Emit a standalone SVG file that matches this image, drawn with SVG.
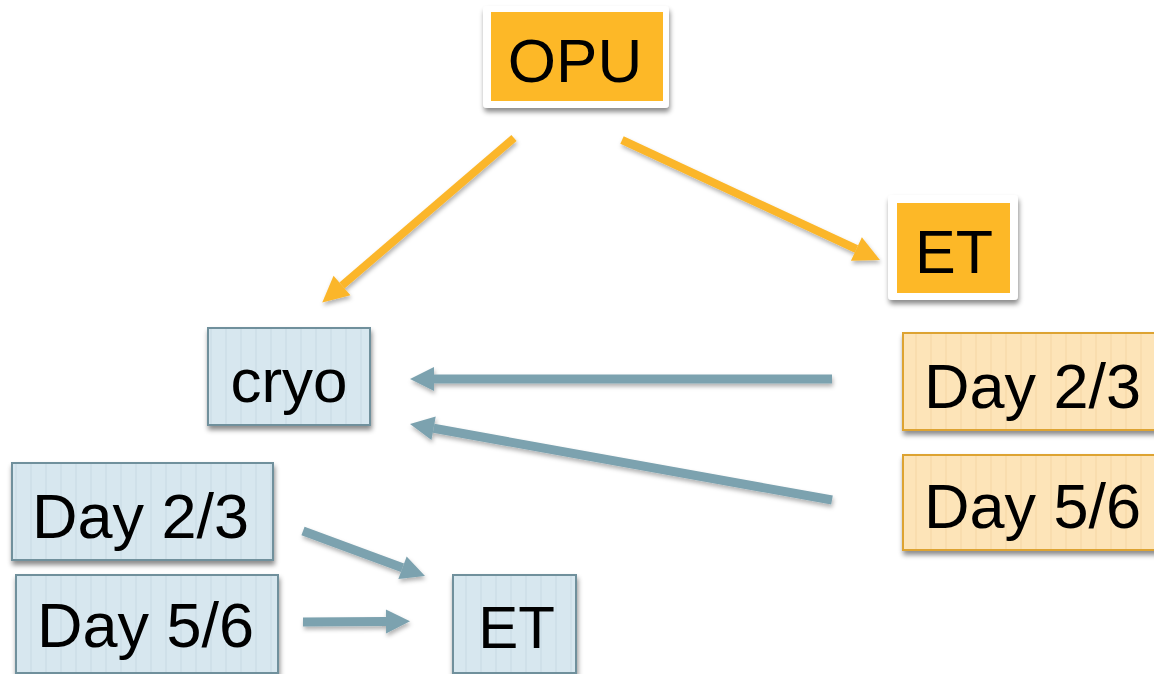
<svg xmlns="http://www.w3.org/2000/svg" width="1154" height="674" viewBox="0 0 1154 674">
<defs>
<style>
.t{font-family:"Liberation Sans",Arial,sans-serif;font-size:63px;fill:#000}
.blue{fill:url(#bstripe);stroke:#6F909C;stroke-width:2}
.beige{fill:url(#ystripe);stroke:#DDA331;stroke-width:2}
.frame{fill:#fff}
.orange{fill:#FDB827}
.oa{stroke:#FBB62B;stroke-width:8;fill:none;marker-end:url(#oh)}
.ba{stroke:#7CA2AF;stroke-width:9;fill:none;marker-end:url(#bh)}
</style>
<pattern id="bstripe" width="15" height="10" patternUnits="userSpaceOnUse">
<rect width="15" height="10" fill="#D7E7EF"/>
<rect x="0" width="2" height="10" fill="#CFE0E9"/>
</pattern>
<pattern id="ystripe" width="15" height="10" patternUnits="userSpaceOnUse">
<rect width="15" height="10" fill="#FDE4B8"/>
<rect x="0" width="2" height="10" fill="#F9DDAE"/>
</pattern>
<filter id="sh" x="-10%" y="-10%" width="130%" height="140%">
<feDropShadow dx="1" dy="4" stdDeviation="2.5" flood-color="#000" flood-opacity="0.45"/>
</filter>
<filter id="ash" x="-20%" y="-20%" width="140%" height="140%">
<feDropShadow dx="1" dy="3" stdDeviation="2" flood-color="#000" flood-opacity="0.3"/>
</filter>
<marker id="oh" markerUnits="userSpaceOnUse" markerWidth="26" markerHeight="26" viewBox="0 0 26 26" refX="0" refY="13" orient="auto" overflow="visible">
<path d="M0,0 L26,13 L0,26 z" fill="#FBB62B"/>
</marker>
<marker id="bh" markerUnits="userSpaceOnUse" markerWidth="24" markerHeight="24" viewBox="0 0 24 24" refX="0" refY="12" orient="auto" overflow="visible">
<path d="M0,0 L24,12 L0,24 z" fill="#7CA2AF"/>
</marker>
</defs>
<rect width="1154" height="674" fill="#fff"/>

<g id="connectors" filter="url(#ash)">
<path class="oa" d="M514,138 L342,285.5"/>
<path class="oa" d="M622,140 L856.4,249"/>
<path class="ba" d="M832,379 L434,379"/>
<path class="ba" d="M832,500 L433.6,428.3"/>
<path class="ba" d="M303,531 L402.5,567.7"/>
<path class="ba" d="M303,622 L386,621.5"/>
</g>

<g id="node-opu">
<rect class="frame" x="483" y="6" width="186" height="102" rx="4" filter="url(#sh)"/>
<rect class="orange" x="491" y="12" width="172" height="89"/>
<text class="t" x="575" y="82" text-anchor="middle" style="font-size:62px">OPU</text>
</g>

<g id="node-et-top">
<rect class="frame" x="888" y="195" width="130" height="105" rx="4" filter="url(#sh)"/>
<rect class="orange" x="897" y="203" width="113" height="90"/>
<text class="t" x="954" y="273" text-anchor="middle" style="font-size:61px">ET</text>
</g>

<g id="node-cryo">
<rect class="blue" x="208" y="328" width="162" height="97" filter="url(#sh)"/>
<text class="t" x="289" y="402" text-anchor="middle" style="font-size:62px">cryo</text>
</g>

<g id="node-right-day23">
<rect class="beige" x="903" y="333" width="260" height="97" filter="url(#sh)"/>
<text class="t" x="924" y="408">Day 2/3</text>
</g>

<g id="node-right-day56">
<rect class="beige" x="903" y="455" width="260" height="95" filter="url(#sh)"/>
<text class="t" x="924" y="528">Day 5/6</text>
</g>

<g id="node-left-day23">
<rect class="blue" x="12" y="463" width="261" height="97" filter="url(#sh)"/>
<text class="t" x="32" y="538">Day 2/3</text>
</g>

<g id="node-left-day56">
<rect class="blue" x="16" y="575" width="262" height="98" filter="url(#sh)"/>
<text class="t" x="37" y="647">Day 5/6</text>
</g>

<g id="node-et-bottom">
<rect class="blue" x="453" y="575" width="123" height="98" filter="url(#sh)"/>
<text class="t" x="516.5" y="648" text-anchor="middle" style="font-size:60px">ET</text>
</g>
</svg>
